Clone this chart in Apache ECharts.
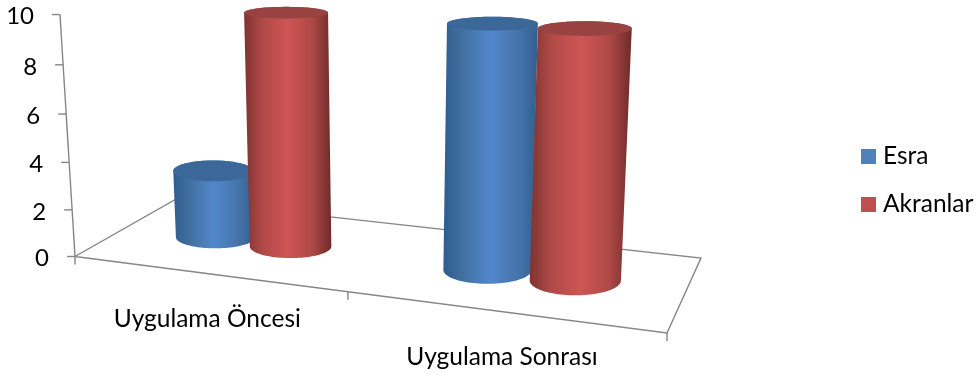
<!DOCTYPE html>
<html>
<head>
<meta charset="utf-8">
<style>html,body{margin:0;padding:0;background:#fff}#chart{width:979px;height:376px}</style>
<script src="https://cdn.jsdelivr.net/npm/echarts@6/dist/echarts.min.js"></script>
</head>
<body>
<div id="chart"></div>
<script>
const categories = ['Uygulama Öncesi', 'Uygulama Sonrası'];
const esra = [3, 10];
const akranlar = [10, 10];
const yTicks = [0, 2, 4, 6, 8, 10];

const FONT = 'Lato, "Open Sans", sans-serif';
const GRID = { left: 100, top: 16, width: 800, height: 240 };

// Floor corners of the 3D plot box.
const FL = [75, 256.5], FR = [667, 333], BL = [175, 199.6], BR = [701, 258];
const lerp = (a, b, k) => a + (b - a) * k;
// Foreshortening along the category direction.
const persp = t => t / (t + 1.169 * (1 - t));
// Share of the full column height reached at a given axis fraction.
const rise = k => (22.9 * 10 * k / (1 - 0.0456 * k)) / 240;

function floorPoint(f, d) {
  const fx = lerp(FL[0], FR[0], f), fy = lerp(FL[1], FR[1], f);
  const bx = lerp(BL[0], BR[0], f), by = lerp(BL[1], BR[1], f);
  return [lerp(fx, bx, d), lerp(fy, by, d)];
}
function project(t, d, k) {
  const f = persp(t);
  const p = floorPoint(f, d);
  const h = (224 + 36 * f + (0.5 - d) * 36) * rise(k);
  return [p[0] + 0.048 * (p[0] - 385) * h / 240, p[1] - h];
}
// Axis scales give the plot fractions; the projection turns them into the 3D view.
const fracX = x => (x - GRID.left) / GRID.width;
const fracY = y => (GRID.top + GRID.height - y) / GRID.height;

function ellipsePts(c, rx, ry, from, to) {
  const pts = [];
  for (let i = 0; i <= 48; i++) {
    const a = lerp(from, to, i / 48);
    pts.push([c[0] + rx * Math.cos(a), c[1] + ry * Math.sin(a)]);
  }
  return pts;
}

function hGradient(stops) {
  return new echarts.graphic.LinearGradient(0, 0, 1, 0,
    stops.map(s => ({ offset: s[0], color: s[1] })));
}

function cylinderSeries(name, values, offset, color, stops, topColor) {
  return {
    type: 'custom',
    name,
    coordinateSystem: 'cartesian2d',
    itemStyle: { color },
    encode: { x: 0, y: 1 },
    data: values.map((v, i) => [i, v]),
    renderItem(params, api) {
      const base = api.coord([api.value(0), 0]);
      const top = api.coord([api.value(0), api.value(1)]);
      const t = fracX(base[0]) + offset;
      const d = 0.52;
      const k = fracY(top[1]);
      const f = persp(t);
      const c0 = project(t, d, 0), c1 = project(t, d, k);
      const rx0 = 38 + 9.5 * f, rx1 = rx0 * (1 + 0.03 * k);
      const ry0 = 10 + 6 * f, ry1 = ry0 * (1 - 0.5 * k * k);
      const shift = 1.5 + 1.5 * f;
      c0[0] += shift; c1[0] += shift;
      const body = ellipsePts(c0, rx0, ry0, Math.PI, 0);
      const rim = ellipsePts(c1, rx1, ry1, 0, -Math.PI);
      return {
        type: 'group',
        children: [
          { type: 'polygon', shape: { points: body.concat(rim) }, style: { fill: hGradient(stops) } },
          { type: 'polygon', shape: { points: ellipsePts(c1, rx1, ry1, 0, Math.PI * 2) }, style: { fill: topColor } }
        ]
      };
    }
  };
}

const axisColor = '#868686';
const line = (a, b) => ({
  type: 'line',
  shape: { x1: a[0], y1: a[1], x2: b[0], y2: b[1] },
  style: { stroke: axisColor, lineWidth: 1.4 }
});

// Floor outline, slanted value axis and category ticks sit behind the columns.
const frameSeries = {
  type: 'custom',
  name: 'frame',
  coordinateSystem: 'cartesian2d',
  silent: true,
  data: [[0, 0]],
  renderItem(params, api) {
    const kids = [
      { type: 'polygon', shape: { points: [FL, FR, BR, BL] }, style: { fill: 'none', stroke: axisColor, lineWidth: 1.4 } },
      line(project(0, 0, 0), project(0, 0, 1))
    ];
    yTicks.forEach(v => {
      const p = project(0, 0, fracY(api.coord([0, v])[1]));
      kids.push(line([p[0] - 8, p[1]], p));
      kids.push({
        type: 'text',
        style: { text: String(v), x: p[0] - 26, y: p[1] + 2, align: 'right', verticalAlign: 'middle', fill: '#000', font: '24px ' + FONT }
      });
    });
    [0, 0.5, 1].forEach(t => {
      const f = persp(t);
      const p = floorPoint(f, 0);
      kids.push(line(p, [p[0], p[1] + 8]));
    });
    categories.forEach((c, i) => {
      const t = fracX(api.coord([i, 0])[0]);
      const p = floorPoint(persp(t), 0);
      kids.push({
        type: 'text',
        style: { text: c, x: p[0] + 1, y: p[1] + 46, align: 'center', verticalAlign: 'middle', fill: '#000', font: '24.5px ' + FONT }
      });
    });
    return { type: 'group', children: kids };
  }
};

const chart = echarts.init(document.getElementById('chart'), null, { renderer: 'canvas' });
chart.setOption({
  animation: false,
  backgroundColor: '#fff',
  grid: GRID,
  xAxis: { type: 'category', data: categories, show: false },
  yAxis: { type: 'value', min: 0, max: 10, interval: 2, show: false },
  legend: {
    left: 861, top: 144, padding: 0, orient: 'vertical', icon: 'rect',
    itemWidth: 15, itemHeight: 15, itemGap: 23, selectedMode: false,
    data: ['Esra', 'Akranlar'],
    textStyle: { fontFamily: FONT, fontSize: 24.5, color: '#000', padding: [0, 0, 0, 2] }
  },
  series: [
    frameSeries,
    cylinderSeries('Esra', esra, -0.073, '#4F81BD',
      [[0, '#2F5C8F'], [0.2, '#41709F'], [0.5, '#5287CC'], [0.78, '#4675AC'], [1, '#335F90']], '#3C6899'),
    cylinderSeries('Akranlar', akranlar, 0.073, '#C0504D',
      [[0, '#7E3331'], [0.2, '#AE4947'], [0.5, '#CE5553'], [0.78, '#AE4947'], [1, '#6E2B2A']], '#984341')
  ]
});
</script>
</body>
</html>
